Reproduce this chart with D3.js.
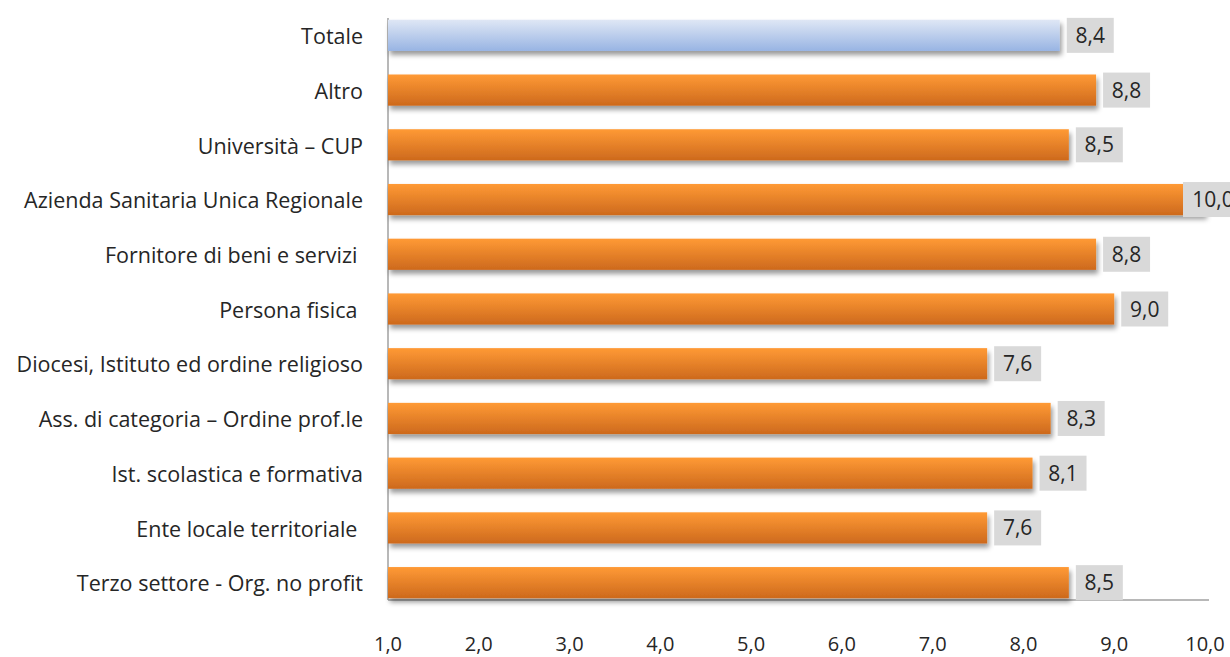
<!DOCTYPE html>
<html>
<head>
<meta charset="utf-8">
<script src="https://cdn.jsdelivr.net/npm/d3@7"></script>
<style>
    body { margin: 0; background: #fff; }
    text { font-family: "Open Sans", "Noto Sans", sans-serif; fill: #262626; white-space: pre; }
</style>
</head>
<body>
<svg id="chart" width="1230" height="657"></svg>
<script>
// categories top to bottom, as in the picture
const categories = [
    "Totale",
    "Altro",
    "Università – CUP",
    "Azienda Sanitaria Unica Regionale",
    "Fornitore di beni e servizi ",
    "Persona fisica ",
    "Diocesi, Istituto ed ordine religioso",
    "Ass. di categoria – Ordine prof.le",
    "Ist. scolastica e formativa",
    "Ente locale territoriale ",
    "Terzo settore - Org. no profit"
];
const values = [8.4, 8.8, 8.5, 10.0, 8.8, 9.0, 7.6, 8.3, 8.1, 7.6, 8.5];
const xTicks = [1, 2, 3, 4, 5, 6, 7, 8, 9, 10];

const svg = d3.select("#chart");

const x = d3.scaleLinear().domain([1, 10]).range([388, 1205]);
const y = d3.scaleBand().domain(categories).range([8, 610])
    .paddingInner(0.43).paddingOuter(0.215);

const fmt = v => d3.format(".1f")(v).replace(".", ",");

// gradients + shadow
const defs = svg.append("defs");
function grad(id, top, bottom) {
    const g = defs.append("linearGradient").attr("id", id)
        .attr("x1", 0).attr("y1", 0).attr("x2", 0).attr("y2", 1);
    g.append("stop").attr("offset", "0%").attr("stop-color", top);
    g.append("stop").attr("offset", "100%").attr("stop-color", bottom);
}
grad("gOrange", "#ff9a35", "#cd691d");
grad("gBlue", "#dfe7f5", "#98b4e3");

defs.append("filter").attr("id", "shadow")
    .attr("x", "-5%").attr("y", "-20%").attr("width", "110%").attr("height", "170%")
    .append("feDropShadow")
    .attr("dx", 2).attr("dy", 4).attr("stdDeviation", 2.5)
    .attr("flood-color", "#000").attr("flood-opacity", 0.4);

// axis lines
svg.append("line")
    .attr("x1", x(1)).attr("x2", x(1))
    .attr("y1", 18).attr("y2", 600)
    .attr("stroke", "#a0a0a0").attr("stroke-width", 1.5);
svg.append("line")
    .attr("x1", x(1)).attr("x2", 1209)
    .attr("y1", 600).attr("y2", 600)
    .attr("stroke", "#a0a0a0").attr("stroke-width", 1.5);

// bars
svg.selectAll("rect.bar")
    .data(categories)
    .join("rect")
    .attr("class", "bar")
    .attr("x", x(1))
    .attr("y", d => y(d))
    .attr("width", (d, i) => x(values[i]) - x(1))
    .attr("height", y.bandwidth())
    .attr("fill", (d, i) => i === 0 ? "url(#gBlue)" : "url(#gOrange)")
    .attr("filter", "url(#shadow)");

// value labels in grey boxes
const boxH = 35;
const lab = svg.selectAll("g.lab")
    .data(categories)
    .join("g")
    .attr("class", "lab")
    .attr("transform", (d, i) => {
        let bx = Math.min(x(values[i]) + 7, x.range()[1] - 22);
        let by = y(d) + y.bandwidth() / 2 - boxH / 2;
        return `translate(${bx},${by})`;
    });

lab.append("rect")
    .attr("width", (d, i) => values[i] >= 10 ? 60 : 47)
    .attr("height", boxH)
    .attr("fill", "#d9d9d9");

lab.append("text")
    .attr("x", (d, i) => values[i] >= 10 ? 30 : 23.5)
    .attr("y", boxH / 2)
    .attr("dy", "0.36em")
    .attr("text-anchor", "middle")
    .style("font-size", "21px")
    .text((d, i) => fmt(values[i]));

// category labels
svg.selectAll("text.cat")
    .data(categories)
    .join("text")
    .attr("class", "cat")
    .attr("x", 363)
    .attr("y", d => y(d) + y.bandwidth() / 2 + 1)
    .attr("dy", "0.36em")
    .attr("text-anchor", "end")
    .style("font-size", "21.5px")
    .text(d => d);

// x tick labels
svg.selectAll("text.tick")
    .data(xTicks)
    .join("text")
    .attr("class", "tick")
    .attr("x", d => x(d))
    .attr("y", 651)
    .attr("text-anchor", "middle")
    .style("font-size", "20px")
    .text(d => fmt(d));
</script>
</body>
</html>
